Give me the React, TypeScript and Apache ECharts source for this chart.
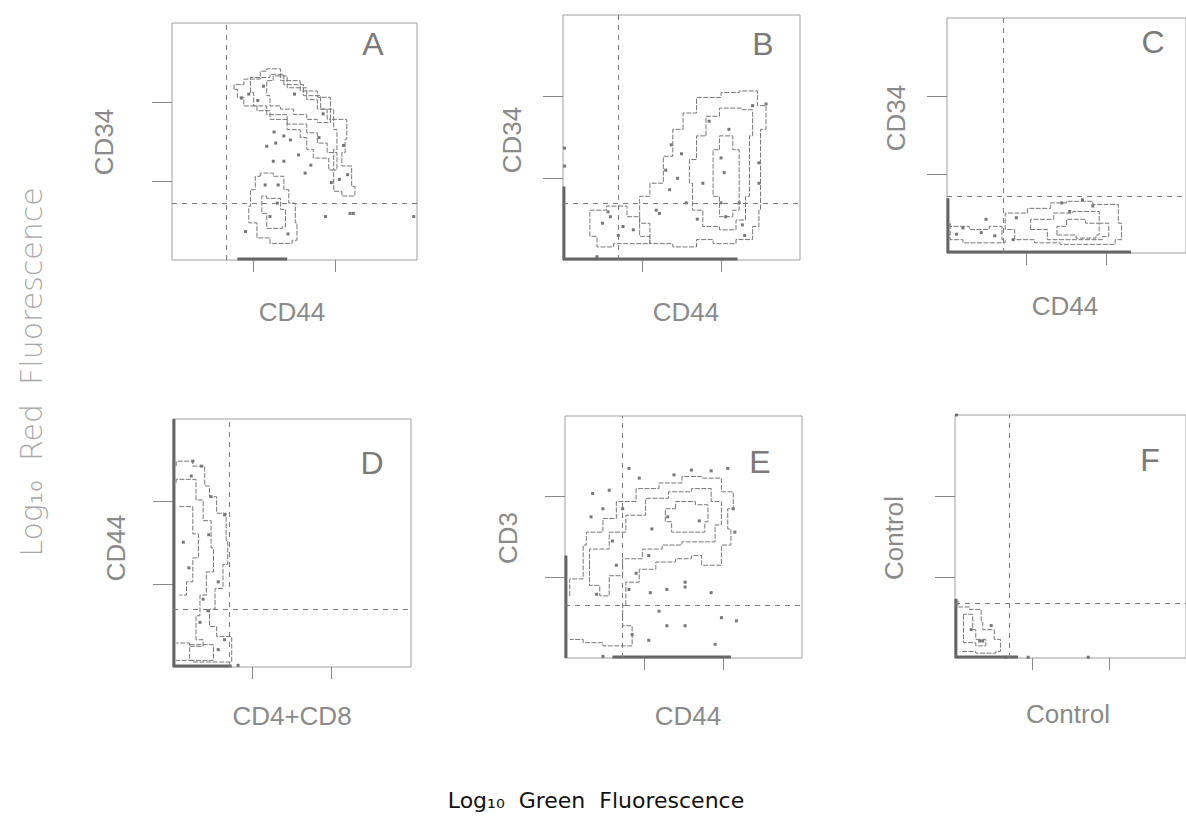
import React, { useEffect, useRef } from "react";
import * as echarts from "echarts";

type Pt = [number, number];

// ---------- text ----------
const panelLetters = ["A", "B", "C", "D", "E", "F"];
const xNames = ["CD44", "CD44", "CD44", "CD4+CD8", "CD44", "Control"];
const yNames = ["CD34", "CD34", "CD34", "CD44", "CD3", "Control"];
const yTitle = "Log\u2081\u2080  Red  Fluorescence";
const xTitle = "Log\u2081\u2080  Green  Fluorescence";

// ---------- axes (log10 decades) ----------
const axisMin = 0;
const axisMax = 3;
const decadeTicks = [1, 2];

// quadrant gates (decades)
const gateX = [0.67, 0.7, 0.7, 0.71, 0.72, 0.7];
const gateY = [0.72, 0.7, 0.72, 0.7, 0.66, 0.68];

// ---------- contour outlines ----------
const contoursA: Pt[][] = [
  [[0.76, 2.16], [0.88, 2.22], [1.08, 2.29], [1.16, 2.39], [1.33, 2.42], [1.57, 2.27], [1.78, 2.14], [1.94, 2.06], [2.14, 1.78], [2.12, 1.53], [2.08, 1.36], [2.2, 1.19], [2.24, 0.93], [2.08, 0.81], [1.98, 0.87], [1.92, 1.14], [1.73, 1.29], [1.65, 1.4], [1.57, 1.55], [1.41, 1.65], [1.2, 1.78], [1.04, 1.89], [0.88, 1.95], [0.8, 2.06], [0.76, 2.16]],
  [[0.96, 2.12], [1.2, 2.31], [1.37, 2.35], [1.61, 2.22], [1.82, 2.08], [1.98, 1.91], [2.02, 1.65], [1.98, 1.4], [2.02, 1.14], [1.9, 1.36], [1.78, 1.48], [1.65, 1.61], [1.41, 1.72], [1.16, 1.84], [1.0, 1.95], [0.96, 2.12]],
  [[1.24, 2.27], [1.41, 2.33], [1.65, 2.18], [1.78, 2.03], [1.9, 1.91], [1.94, 1.78], [1.78, 1.74], [1.65, 1.78], [1.49, 1.84], [1.33, 1.91], [1.2, 1.95], [1.16, 2.08], [1.24, 2.27]],
  [[1.08, 1.06], [1.24, 1.1], [1.37, 1.06], [1.43, 0.89], [1.51, 0.72], [1.53, 0.47], [1.47, 0.25], [1.2, 0.21], [1.04, 0.28], [0.94, 0.47], [0.96, 0.68], [1.02, 0.89], [1.08, 1.06]],
  [[1.16, 0.81], [1.33, 0.78], [1.39, 0.64], [1.35, 0.42], [1.16, 0.4], [1.1, 0.59], [1.16, 0.81]],
];
const contoursB: Pt[][] = [
  [[1.52, 1.6], [1.69, 1.8], [2.0, 1.99], [2.23, 2.05], [2.46, 2.07], [2.57, 1.89], [2.5, 1.6], [2.5, 1.23], [2.48, 0.61], [2.4, 0.41], [2.19, 0.25], [1.9, 0.2], [1.69, 0.25], [1.39, 0.16], [1.1, 0.2], [0.97, 0.45], [1.1, 0.78], [1.27, 0.94], [1.39, 1.27], [1.52, 1.6]],
  [[1.81, 1.52], [1.98, 1.76], [2.27, 1.86], [2.4, 1.84], [2.36, 1.52], [2.36, 1.15], [2.31, 0.78], [2.19, 0.49], [1.98, 0.37], [1.77, 0.41], [1.64, 0.61], [1.6, 0.94], [1.69, 1.23], [1.81, 1.52]],
  [[1.98, 1.35], [2.15, 1.52], [2.23, 1.35], [2.23, 0.94], [2.15, 0.61], [1.98, 0.53], [1.9, 0.78], [1.9, 1.11], [1.98, 1.35]],
  [[0.34, 0.29], [0.55, 0.61], [0.81, 0.66], [0.97, 0.53], [1.1, 0.29], [0.89, 0.2], [0.64, 0.2], [0.43, 0.16], [0.34, 0.29]],
];
const contoursC: Pt[][] = [
  [[0.73, 0.38], [1.01, 0.51], [1.3, 0.57], [1.5, 0.64], [1.83, 0.66], [2.15, 0.62], [2.19, 0.38], [2.11, 0.17], [1.83, 0.11], [1.42, 0.11], [1.1, 0.13], [0.85, 0.17], [0.73, 0.3], [0.73, 0.38]],
  [[1.05, 0.3], [1.34, 0.43], [1.58, 0.51], [1.91, 0.53], [2.03, 0.38], [1.95, 0.21], [1.62, 0.17], [1.26, 0.17], [1.05, 0.3]],
  [[1.38, 0.23], [1.5, 0.34], [1.74, 0.43], [1.91, 0.38], [1.87, 0.23], [1.62, 0.19], [1.38, 0.23]],
  [[0.04, 0.38], [0.28, 0.34], [0.53, 0.3], [0.69, 0.34], [0.73, 0.17], [0.53, 0.13], [0.2, 0.13], [0.04, 0.17], [0.04, 0.38]],
];
const contoursD: Pt[][] = [
  [[0.04, 2.43], [0.25, 2.49], [0.4, 2.43], [0.46, 2.19], [0.55, 2.06], [0.67, 1.86], [0.69, 1.53], [0.63, 1.24], [0.53, 0.95], [0.46, 0.7], [0.55, 0.49], [0.74, 0.37], [0.74, 0.12], [0.25, 0.06], [0.04, 0.08]],
  [[0.04, 2.23], [0.29, 2.27], [0.38, 2.02], [0.48, 1.77], [0.51, 1.44], [0.42, 1.15], [0.34, 0.87], [0.29, 0.62], [0.38, 0.33], [0.21, 0.25], [0.04, 0.29]],
  [[0.08, 1.94], [0.25, 1.94], [0.32, 1.61], [0.25, 1.32], [0.17, 1.03], [0.08, 0.87]],
  [[0.21, 0.27], [0.51, 0.27], [0.51, 0.08], [0.21, 0.08], [0.21, 0.27]],
];
const contoursE: Pt[][] = [
  [[0.06, 0.77], [0.23, 0.98], [0.27, 1.4], [0.48, 1.56], [0.65, 1.73], [0.9, 1.94], [1.19, 2.1], [1.48, 2.17], [1.73, 2.25], [1.98, 2.23], [2.13, 2.06], [2.06, 1.85], [2.1, 1.6], [1.98, 1.4], [1.98, 1.19], [1.73, 1.15], [1.6, 1.27], [1.4, 1.23], [1.15, 1.19], [0.94, 1.1], [0.77, 0.94], [0.73, 0.65], [0.85, 0.4], [0.81, 0.15], [0.48, 0.15], [0.23, 0.19], [0.06, 0.23]],
  [[0.31, 1.15], [0.56, 1.35], [0.77, 1.56], [1.02, 1.77], [1.31, 1.98], [1.6, 2.06], [1.85, 2.1], [1.98, 1.94], [1.9, 1.65], [1.73, 1.44], [1.48, 1.44], [1.23, 1.4], [0.98, 1.35], [0.73, 1.23], [0.56, 1.02], [0.44, 0.77], [0.31, 0.9], [0.31, 1.15]],
  [[1.4, 1.85], [1.65, 1.94], [1.81, 1.9], [1.77, 1.69], [1.56, 1.56], [1.35, 1.56], [1.27, 1.69], [1.4, 1.85]],
];
const contoursF: Pt[][] = [
  [[0.04, 0.71], [0.19, 0.63], [0.34, 0.6], [0.36, 0.44], [0.51, 0.35], [0.59, 0.23], [0.53, 0.08], [0.27, 0.06], [0.06, 0.08]],
  [[0.11, 0.52], [0.23, 0.54], [0.27, 0.35], [0.4, 0.23], [0.27, 0.15], [0.11, 0.19], [0.11, 0.52]],
];

// ---------- isolated events ----------
const dotsA: Pt[] = [[1.24, 1.25], [1.37, 1.25], [1.55, 1.33], [1.63, 1.1], [1.88, 0.55], [2.18, 0.59], [2.22, 0.59], [2.96, 0.55], [1.16, 1.44], [1.27, 1.48], [1.37, 1.57], [0.9, 0.36], [1.29, 0.72], [1.45, 1.52], [1.7, 1.2], [2.05, 1.02], [2.15, 1.08], [1.95, 0.98], [0.85, 2.05], [1.05, 2.02], [1.8, 1.55], [1.25, 1.62], [0.94, 2.1], [1.14, 0.95], [1.12, 2.2], [1.5, 2.1], [1.85, 1.85], [2.1, 1.45], [1.3, 0.95], [1.2, 0.55], [1.42, 0.33]];
const dotsB: Pt[] = [[0.57, 0.59], [0.6, 0.53], [1.18, 0.61], [1.35, 0.86], [1.37, 1.41], [1.56, 0.7], [2.0, 0.7], [2.06, 0.53], [2.23, 0.7], [2.27, 0.43], [2.48, 1.19], [2.48, 0.94], [2.4, 1.89], [2.57, 1.91], [2.0, 1.25], [2.04, 1.07], [1.77, 0.94], [0.43, 0.04], [0.76, 0.41], [0.89, 0.37], [1.22, 0.57], [0.02, 1.37], [0.02, 1.15], [1.45, 1.0], [1.3, 1.1], [2.3, 0.3], [1.85, 1.7], [2.1, 1.6], [1.7, 0.5], [0.5, 0.45], [0.7, 0.3], [1.5, 1.3]];
const dotsC: Pt[] = [[0.49, 0.43], [0.2, 0.32], [0.43, 0.26], [0.87, 0.45], [1.44, 0.64], [1.7, 0.68], [1.83, 0.6], [0.83, 0.17], [1.54, 0.53], [0.12, 0.24], [0.6, 0.22]];
const dotsD: Pt[] = [[0.25, 2.49], [0.36, 2.43], [0.23, 2.31], [0.48, 2.06], [0.65, 1.84], [0.13, 1.51], [0.57, 1.03], [0.38, 0.82], [0.34, 0.54], [0.57, 0.21], [0.65, 0.33], [0.44, 0.68], [0.82, 0.02], [0.2, 1.2], [0.45, 1.6]];
const dotsE: Pt[] = [[0.81, 2.35], [0.35, 2.04], [0.56, 2.08], [0.94, 2.23], [1.38, 2.27], [1.6, 2.33], [1.85, 2.32], [2.06, 2.35], [0.33, 1.75], [0.48, 1.85], [0.73, 1.85], [2.13, 1.85], [2.15, 1.56], [1.06, 1.27], [1.08, 0.81], [1.52, 0.94], [1.52, 0.88], [1.29, 0.85], [1.85, 0.81], [1.19, 0.58], [1.98, 0.5], [2.17, 0.46], [1.29, 0.4], [1.52, 0.4], [1.9, 0.17], [1.06, 0.22], [0.85, 0.29], [0.48, 0.02], [0.4, 0.79], [0.65, 1.15], [0.81, 0.85], [1.1, 1.6], [1.3, 1.75], [0.6, 1.45], [1.7, 1.7], [0.9, 1.05]];
const dotsF: Pt[] = [[0.32, 0.21], [0.36, 0.21], [0.47, 0.4], [0.21, 0.35], [0.66, 0.01], [0.95, 0.01], [1.73, 0.01], [0.02, 3.0]];

// ---------- events piled on axes: [from, to] in decades ----------
const bottomPile: ([number, number] | null)[] = [[0.8, 1.41], [0.0, 2.21], [0.0, 2.31], [0.0, 0.74], [0.6, 2.1], [0.0, 0.82]];
const leftPile: ([number, number] | null)[] = [null, [0.0, 0.9], [0.0, 0.7], [0.0, 3.0], [0.0, 1.27], [0.0, 0.73]];

const contours = [contoursA, contoursB, contoursC, contoursD, contoursE, contoursF];
const dots = [dotsA, dotsB, dotsC, dotsD, dotsE, dotsF];

// ---------- layout (pixels) ----------
const grids = [
  { left: 172, top: 23, width: 245, height: 237 },
  { left: 563, top: 15, width: 237, height: 245 },
  { left: 947, top: 18, width: 240, height: 235 },
  { left: 173, top: 419, width: 238, height: 248 },
  { left: 565, top: 416, width: 237, height: 242 },
  { left: 955, top: 415, width: 240, height: 243 },
];
const letterPos: Pt[] = [[373, 44], [763, 44], [1153, 42], [372, 463], [760, 462], [1150, 460]];
const xNamePos: Pt[] = [[292, 312], [686, 312], [1065, 306], [292, 716], [688, 716], [1068, 714]];
const yNamePos: Pt[] = [[104, 142], [512, 140], [896, 118], [116, 548], [508, 538], [894, 538]];

const ink = "#777";
const labelGray = "#8a8a8a";

export default function App() {
  const ref = useRef<HTMLDivElement>(null);
  useEffect(() => {
    if (!ref.current) return;
    const chart = echarts.init(ref.current, null, { renderer: "svg" });
    const series: any[] = [];
    grids.forEach((_, i) => {
      contours[i].forEach((c) => {
        series.push({
          type: "line",
          xAxisIndex: i,
          yAxisIndex: i,
          data: c,
          step: "start",
          symbol: "none",
          silent: true,
          lineStyle: { color: ink, width: 1, type: [5, 1.5] },
        });
      });
      series.push({
        type: "scatter",
        xAxisIndex: i,
        yAxisIndex: i,
        data: dots[i],
        symbol: "rect",
        symbolSize: 3,
        silent: true,
        itemStyle: { color: "#555" },
        markLine: {
          silent: true,
          symbol: ["none", "none"],
          label: { show: false },
          lineStyle: { color: "#7a7a7a", width: 1, type: [5, 5] },
          data: [{ xAxis: gateX[i] }, { yAxis: gateY[i] }],
        },
      });
      const b = bottomPile[i];
      if (b) {
        series.push({
          type: "line",
          xAxisIndex: i,
          yAxisIndex: i,
          data: [[b[0], 0.012], [b[1], 0.012]],
          symbol: "none",
          silent: true,
          lineStyle: { color: "#666", width: 3 },
        });
      }
      const l = leftPile[i];
      if (l) {
        series.push({
          type: "line",
          xAxisIndex: i,
          yAxisIndex: i,
          data: [[0.012, l[0]], [0.012, l[1]]],
          symbol: "none",
          silent: true,
          lineStyle: { color: "#666", width: 3 },
        });
      }
    });

    const axisCommon = {
      type: "value",
      min: axisMin,
      max: axisMax,
      interval: 1,
      axisLine: { show: false },
      axisLabel: { show: false },
      splitLine: { show: false },
    };

    const graphics: any[] = [];
    grids.forEach((_, i) => {
      graphics.push({
        type: "text",
        x: letterPos[i][0],
        y: letterPos[i][1],
        style: { text: panelLetters[i], fontSize: 32, fontFamily: "Liberation Sans", fill: "#7a7a7a", align: "center", verticalAlign: "middle" },
      });
      graphics.push({
        type: "text",
        x: xNamePos[i][0],
        y: xNamePos[i][1],
        style: { text: xNames[i], fontSize: 26, fontFamily: "Liberation Sans", fill: labelGray, align: "center", verticalAlign: "middle" },
      });
      graphics.push({
        type: "text",
        x: yNamePos[i][0],
        y: yNamePos[i][1],
        rotation: Math.PI / 2,
        style: { text: yNames[i], fontSize: 26, fontFamily: "Liberation Sans", fill: labelGray, align: "center", verticalAlign: "middle" },
      });
    });
    graphics.push({
      type: "text",
      x: 31,
      y: 372,
      rotation: Math.PI / 2,
      style: { text: yTitle, fontSize: 30, fontWeight: 300, fontFamily: "DejaVu Sans", fill: "#a8a8a8", align: "center", verticalAlign: "middle" },
    });
    graphics.push({
      type: "text",
      x: 596,
      y: 800,
      style: { text: xTitle, fontSize: 22, fontFamily: "DejaVu Sans", fill: "#111", align: "center", verticalAlign: "middle" },
    });

    chart.setOption({
      animation: false,
      backgroundColor: "#fff",
      grid: grids.map((g) => ({ ...g, show: true, borderColor: "#a0a0a0", borderWidth: 1, backgroundColor: "transparent" })),
      xAxis: grids.map((_, i) => ({
        ...axisCommon,
        gridIndex: i,
        axisTick: { show: true, customValues: decadeTicks, length: 12, lineStyle: { color: "#888" } },
      })),
      yAxis: grids.map((_, i) => ({
        ...axisCommon,
        gridIndex: i,
        axisTick: { show: true, customValues: decadeTicks, length: 20, lineStyle: { color: "#888" } },
      })),
      series,
      graphic: graphics,
    });
    return () => chart.dispose();
  }, []);
  return <div ref={ref} style={{ position: "absolute", left: 0, top: 0, width: 1186, height: 840 }} />;
}
